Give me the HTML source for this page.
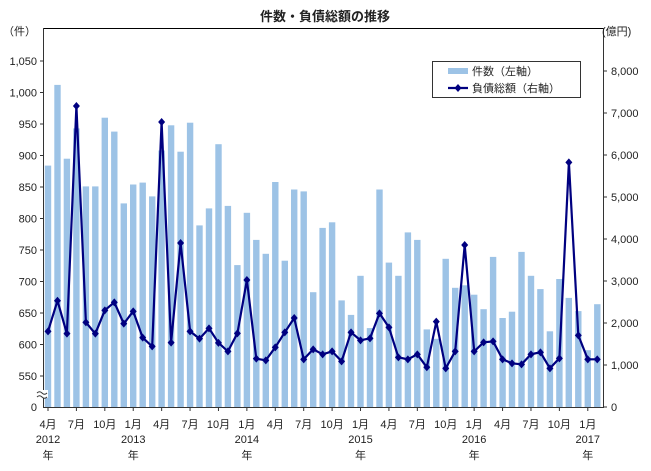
<!DOCTYPE html>
<html><head><meta charset="utf-8"><style>
body{margin:0;background:#fff;width:651px;height:466px;overflow:hidden}
svg text{font-family:"Liberation Sans","Noto Sans CJK JP",sans-serif;fill:#222}
</style></head><body>
<svg id="c" width="651" height="466" xmlns="http://www.w3.org/2000/svg"></svg>
<script>
var bars=[884,1012,895,943,851,851,960,938,824,854,857,835,908,948,906,952,789,816,918,
820,726,809,766,744,858,733,846,843,683,785,794,670,647,709,626,846,730,709,778,766,
624,609,736,690,694,679,656,739,642,652,747,709,688,621,704,674,653,591,664];
var line=[1802,2531,1746,7167,2016,1746,2302,2492,1984,2278,1651,1444,6786,1532,3905,1802,1627,1873,1528,
1325,1754,3024,1151,1111,1421,1778,2119,1135,1373,1254,1325,1087,1778,1587,1635,2230,1897,1183,1135,1254,
945,2032,921,1325,3857,1325,1540,1563,1135,1040,1016,1254,1302,921,1159,5825,1706,1135,1135];
var s='';
function X(i){return 48+i*9.47;}
function yl(v){return 376-(v-550)*0.63;}
function yr(v){return 407-v*0.042;}
s+='<text x="325" y="21" text-anchor="middle" font-size="13" font-weight="bold">件数・負債総額の推移</text>';
s+='<line x1="43" y1="28.5" x2="603" y2="28.5" stroke="#000" stroke-width="1"/>';
for(var i=0;i<bars.length;i++){var y=yl(bars[i]);s+='<rect x="'+(X(i)-3.2).toFixed(1)+'" y="'+y.toFixed(1)+'" width="6.4" height="'+(407-y).toFixed(1)+'" fill="#9dc3e6"/>';}
var p=line.map(function(v,i){return X(i).toFixed(1)+','+yr(v).toFixed(1)}).join(' ');
s+='<polyline points="'+p+'" fill="none" stroke="#000080" stroke-width="2.2"/>';
line.forEach(function(v,i){var x=X(i),y=yr(v);s+='<path d="M'+x+' '+(y-4)+'L'+(x+3.5)+' '+y+'L'+x+' '+(y+4)+'L'+(x-3.5)+' '+y+'Z" fill="#000080"/>';});
s+='<line x1="43.5" y1="28" x2="43.5" y2="408" stroke="#333"/>';
s+='<line x1="603.5" y1="28" x2="603.5" y2="408" stroke="#333"/>';
s+='<line x1="43" y1="407.5" x2="604" y2="407.5" stroke="#333"/>';
var lt=[1050,1000,950,900,850,800,750,700,650,600,550];
lt.forEach(function(v){var y=yl(v);s+='<line x1="40" y1="'+y+'" x2="43" y2="'+y+'" stroke="#333"/><text x="37" y="'+(y+4)+'" text-anchor="end" font-size="11">'+(v>=1000?'1,'+String(v-1000).padStart(3,'0'):v)+'</text>';});
s+='<text x="37" y="411" text-anchor="end" font-size="11">0</text>';
s+='<text x="3" y="35" font-size="11">（件）</text>';
s+='<rect x="36" y="390" width="12" height="8" fill="#fff"/>';
s+='<path d="M37 393q2.5-2.5 5 0t5 0M37 397q2.5-2.5 5 0t5 0" fill="none" stroke="#333" stroke-width="1"/>';
for(var k=0;k<=8;k++){var y=yr(k*1000);s+='<line x1="603" y1="'+y+'" x2="607" y2="'+y+'" stroke="#333"/><text x="611" y="'+(y+4)+'" font-size="11">'+(k==0?'0':k+',000')+'</text>';}
s+='<text x="602" y="35" font-size="11">(億円)</text>';
var mn=['4月','7月','10月','1月'];
for(var i=0;i<59;i+=3){var x=X(i);s+='<line x1="'+x+'" y1="407" x2="'+x+'" y2="411" stroke="#333"/><text x="'+x+'" y="428" text-anchor="middle" font-size="11">'+mn[(i/3)%4]+'</text>';}
var yrs=[[0,'2012'],[9,'2013'],[21,'2014'],[33,'2015'],[45,'2016'],[57,'2017']];
yrs.forEach(function(a){var x=X(a[0]);s+='<text x="'+x+'" y="443" text-anchor="middle" font-size="11">'+a[1]+'</text><text x="'+x+'" y="459" text-anchor="middle" font-size="11">年</text>';});
s+='<rect x="432.5" y="61.5" width="148" height="36" fill="#fff" stroke="#333"/>';
s+='<rect x="448" y="68" width="20" height="6" fill="#9dc3e6"/><text x="472" y="75" font-size="11">件数（左軸）</text>';
s+='<line x1="448" y1="88" x2="468" y2="88" stroke="#000080" stroke-width="2.2"/><path d="M458 84L461.5 88L458 92L454.5 88Z" fill="#000080"/><text x="472" y="92" font-size="11">負債総額（右軸）</text>';
document.getElementById('c').innerHTML=s;
</script>
</body></html>
